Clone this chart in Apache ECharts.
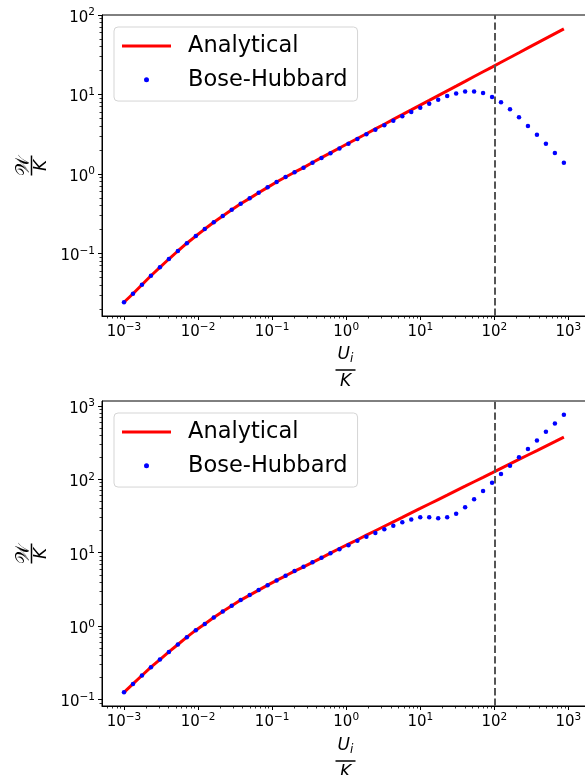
<!DOCTYPE html>
<html>
<head>
<meta charset="utf-8">
<script src="https://cdn.jsdelivr.net/npm/echarts@6/dist/echarts.min.js"></script>
<style>
  html, body { margin: 0; padding: 0; background: #fff; }
  #chart { width: 585px; height: 775px; }
</style>
</head>
<body>
<div id="chart"></div>
<script>
// U_i / K sample points (shared by both panels)
var uOverK = [0.001, 0.001322, 0.001747, 0.002310, 0.003053, 0.004036, 0.005337, 0.007055, 0.009325, 0.01232,
  0.01629, 0.02154, 0.02847, 0.03764, 0.04975, 0.06577, 0.08694, 0.1149, 0.1519, 0.2008,
  0.2655, 0.3509, 0.4639, 0.6132, 0.8106, 1.072, 1.416, 1.873, 2.475, 3.272,
  4.325, 5.719, 7.556, 9.991, 13.21, 17.46, 23.08, 30.51, 40.33, 53.31,
  70.47, 93.16, 123.1, 162.8, 215.2, 284.4, 376.0, 497.0, 657.1, 868.8];

// top panel: W/K
var analyticalTop = [0.0242, 0.0310, 0.0402, 0.0522, 0.0667, 0.0848, 0.107, 0.134, 0.165, 0.202,
  0.246, 0.295, 0.354, 0.421, 0.492, 0.579, 0.677, 0.790, 0.913, 1.05,
  1.20, 1.39, 1.60, 1.84, 2.12, 2.43, 2.79, 3.20, 3.68, 4.22,
  4.85, 5.56, 6.38, 7.33, 8.41, 9.66, 11.1, 12.7, 14.6, 16.8,
  19.3, 22.1, 25.4, 29.2, 33.5, 38.5, 44.2, 50.7, 58.2, 66.8];
var boseHubbardTop = [0.0242, 0.0310, 0.0402, 0.0522, 0.0667, 0.0848, 0.107, 0.134, 0.165, 0.202,
  0.246, 0.295, 0.354, 0.421, 0.492, 0.579, 0.677, 0.790, 0.913, 1.047,
  1.196, 1.383, 1.584, 1.815, 2.085, 2.396, 2.747, 3.15, 3.60, 4.09,
  4.67, 5.30, 6.01, 6.81, 7.64, 8.58, 9.55, 10.3, 10.9, 10.9,
  10.4, 9.28, 7.96, 6.50, 5.15, 4.01, 3.11, 2.40, 1.83, 1.38];

// bottom panel: W/K
var analyticalBottom = [0.125, 0.163, 0.212, 0.275, 0.350, 0.445, 0.561, 0.706, 0.879, 1.07,
  1.31, 1.58, 1.89, 2.26, 2.64, 3.09, 3.61, 4.19, 4.84, 5.61,
  6.42, 7.38, 8.51, 9.85, 11.4, 13.1, 15.0, 17.3, 19.9, 22.9,
  26.3, 30.2, 34.8, 40.0, 46.0, 52.9, 60.8, 70.0, 80.4, 92.5,
  106, 122, 141, 162, 186, 214, 246, 283, 325, 374];
var boseHubbardBottom = [0.125, 0.163, 0.212, 0.275, 0.350, 0.445, 0.561, 0.706, 0.879, 1.07,
  1.31, 1.58, 1.89, 2.26, 2.64, 3.09, 3.61, 4.19, 4.84, 5.61,
  6.42, 7.38, 8.51, 9.78, 11.1, 12.6, 14.5, 16.5, 18.5, 20.8,
  23.3, 25.9, 28.4, 30.3, 30.3, 29.4, 30.3, 34.0, 41.5, 53.3,
  69.2, 89.9, 118, 153, 200, 259, 336, 442, 574, 754];

var cutoffU = 100;

// axis ranges and tick values (the right spine falls just past the picture edge)
var xRange = [5.047e-4, 1897];
var yRangeTop = [0.01626, 100];
var yRangeBottom = [0.0815, 1164];
var xTicks = [0.001, 0.01, 0.1, 1, 10, 100, 1000];
var yTicksTop = [0.1, 1, 10, 100];
var yTicksBottom = [0.1, 1, 10, 100, 1000];
var minorMantissa = [2, 3, 4, 5, 6, 7, 8, 9];

var FONT = 'DejaVu Sans';

function minorTicks(range) {
  var out = [];
  for (var e = Math.floor(Math.log10(range[0])); e <= Math.floor(Math.log10(range[1])); e++) {
    minorMantissa.forEach(function (m) {
      var v = m * Math.pow(10, e);
      if (v > range[0] && v < range[1]) out.push(Math.log10(v));
    });
  }
  return out;
}

function powLabel(v) {
  var e = Math.round(v);
  return '{b|10}{s|' + (e < 0 ? '\u2212' + (-e) : e) + '}';
}

var tickRich = {
  b: { fontSize: 15, fontFamily: FONT, color: '#000', padding: [6, 0, 0, 0] },
  s: { fontSize: 10.5, fontFamily: FONT, color: '#000', padding: [0, 0, 4.6, 0] }
};

var fracRich = {
  n: { fontSize: 17, fontFamily: FONT, fontStyle: 'italic', color: '#000', lineHeight: 20 },
  w: { fontSize: 19, fontFamily: FONT, color: '#000', lineHeight: 6 },
  sub: { fontSize: 12, fontFamily: FONT, fontStyle: 'italic', color: '#000', lineHeight: 12, verticalAlign: 'bottom' },
  bar: { fontSize: 1, width: 20, height: 1.5, lineHeight: 11, backgroundColor: '#000' },
  ybar: { fontSize: 1, width: 20, height: 1.5, lineHeight: 9, backgroundColor: '#000' },
  d: { fontSize: 17, fontFamily: FONT, fontStyle: 'italic', color: '#000', lineHeight: 12 }
};

// one data axis (log) + two overlay axes that carry matplotlib-like ticks
function axisSet(dim, grid, range, majors, name, nameGap) {
  var isX = dim === 'x';
  var pos = isX ? 'bottom' : 'left';
  var lo = Math.log10(range[0]), hi = Math.log10(range[1]);
  var majorLog = majors.map(Math.log10);
  return [{
    type: 'log', logBase: 10, gridIndex: grid, position: pos, min: range[0], max: range[1],
    axisLine: { show: true, onZero: false, lineStyle: { color: '#000', width: 1 } },
    axisTick: { show: false }, axisLabel: { show: false }, splitLine: { show: false },
    name: name, nameLocation: 'middle', nameGap: nameGap, nameRotate: isX ? 0 : 90,
    nameTextStyle: { rich: fracRich, align: 'center' }
  }, {
    type: 'value', gridIndex: grid, position: pos, min: lo, max: hi,
    axisLine: { show: false, onZero: false }, splitLine: { show: false },
    axisTick: { show: true, length: 4, lineStyle: { color: '#000', width: 1 }, customValues: majorLog },
    axisLabel: { show: true, customValues: majorLog, formatter: powLabel, rich: tickRich,
      margin: isX ? 3 : 7, showMinLabel: true, showMaxLabel: true }
  }, {
    type: 'value', gridIndex: grid, position: pos, min: lo, max: hi,
    axisLine: { show: false, onZero: false }, splitLine: { show: false }, axisLabel: { show: false },
    axisTick: { show: true, length: 2.5, lineStyle: { color: '#000', width: 0.8 }, customValues: minorTicks(range) }
  }];
}

var xName = '{n|U}{sub|i}\n{bar| }\n{d|K}';
var yName = '{w|\uD835\uDCB2}\n{ybar| }\n{d|K}';

var xAxes = axisSet('x', 0, xRange, xTicks, xName, 28.5).concat(axisSet('x', 1, xRange, xTicks, xName, 29.5));
var yAxes = axisSet('y', 0, yRangeTop, yTicksTop, yName, 54).concat(axisSet('y', 1, yRangeBottom, yTicksBottom, yName, 54));

function pairs(ys) {
  return uOverK.map(function (x, i) { return [x, ys[i]]; });
}

function panelSeries(idx, analytical, bose) {
  var ax = idx * 3;
  return [{
    name: 'Analytical', type: 'line', xAxisIndex: ax, yAxisIndex: ax,
    data: pairs(analytical), symbol: 'none', z: 2,
    lineStyle: { color: '#ff0000', width: 3 }, itemStyle: { color: '#ff0000' }
  }, {
    name: 'Bose-Hubbard', type: 'scatter', xAxisIndex: ax, yAxisIndex: ax,
    data: pairs(bose), symbolSize: 4.5, z: 3,
    itemStyle: { color: '#0000ff', opacity: 1 },
    markLine: {
      silent: true, symbol: ['none', 'none'], label: { show: false }, animation: false,
      lineStyle: { color: '#555555', width: 2, type: [7.4, 3.2] },
      emphasis: { disabled: true },
      data: [{ xAxis: cutoffU }]
    }
  }];
}

var legendBase = {
  orient: 'vertical', left: 114, selectedMode: false,
  itemWidth: 49, itemHeight: 5, itemGap: 10.8,
  padding: [7.5, 10, 9.75, 8],
  borderColor: '#d5d5d5', borderWidth: 1, borderRadius: 4, backgroundColor: '#fff',
  textStyle: { fontSize: 22.5, fontFamily: FONT, color: '#000', padding: [0, 0, 0, 12] },
  data: [{ name: 'Analytical', icon: 'path://M0,0H49V3H0Z' }, { name: 'Bose-Hubbard', icon: 'circle' }]
};

var chart = echarts.init(document.getElementById('chart'));
chart.setOption({
  animation: false,
  backgroundColor: '#fff',
  textStyle: { fontFamily: FONT },
  grid: [
    { left: 102, top: 15, width: 487, height: 301, show: true, borderColor: '#000', borderWidth: 1,
      containLabel: false, outerBoundsMode: 'none' },
    { left: 102, top: 401, width: 487, height: 305, show: true, borderColor: '#000', borderWidth: 1,
      containLabel: false, outerBoundsMode: 'none' }
  ],
  legend: [
    Object.assign({}, legendBase, { top: 27 }),
    Object.assign({}, legendBase, { top: 413 })
  ],
  xAxis: xAxes,
  yAxis: yAxes,
  series: panelSeries(0, analyticalTop, boseHubbardTop).concat(panelSeries(1, analyticalBottom, boseHubbardBottom))
});
</script>
</body>
</html>
